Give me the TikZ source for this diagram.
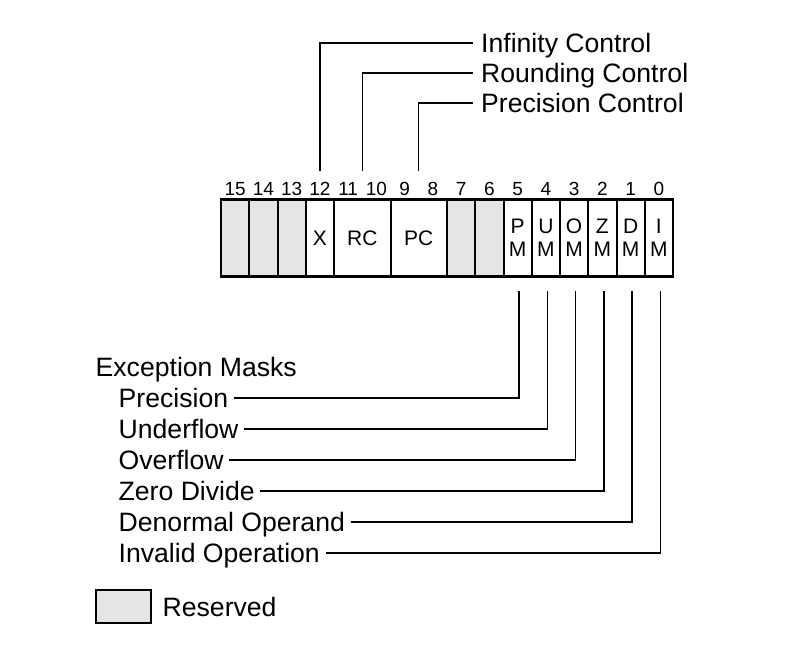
\documentclass[tikz,border=0pt]{standalone}
\usepackage{fontspec}
\setmainfont{Liberation Sans}
\usetikzlibrary{positioning}

\tikzset{
  cell/.style={draw,line width=2pt,minimum width=28.25pt,minimum height=77pt,inner sep=0pt,
    font=\fontsize{21}{23}\selectfont,align=center},
  resv/.style={cell,fill=gray!20},
  bitno/.style={font=\fontsize{19}{20}\selectfont,inner sep=0pt},
  lbl/.style={font=\fontsize{26.6}{31}\selectfont,text height=19pt,text depth=0pt,
    inner ysep=0pt,inner xsep=5.5pt,anchor=west},
  toplbl/.style={lbl,inner xsep=8pt},
  lead/.style={line width=1.3pt}
}

\begin{document}
\begin{tikzpicture}[x=1pt,y=-1pt]
  \useasboundingbox (0,0) rectangle (810,647);
  % register cells
  \foreach \b/\n/\txt/\sty in {15/c15//resv,14/c14//resv,13/c13//resv,12/x/X/cell,
      7/c7//resv,6/c6//resv,5/pm/{P\\M}/cell,4/um/{U\\M}/cell,3/om/{O\\M}/cell,
      2/zm/{Z\\M}/cell,1/dm/{D\\M}/cell,0/im/{I\\M}/cell}
    \node[\sty] (\n) at ({221+(15.5-\b)*28.25},238) {\txt};
  \node[cell,minimum width=56.5pt] (rc) at (362.25,238) {RC};
  \node[cell,minimum width=56.5pt] (pc) at (418.75,238) {PC};
  \draw[line width=2.5pt] (221,199.5) rectangle (673,276.5);
  % bit numbers
  \foreach \b in {0,...,15}
    \node[bitno] (b\b) at ({221+(15.5-\b)*28.25},189) {\b};

  % control fields
  \node[toplbl] (infctl) at (473,43) {Infinity Control};
  \node[toplbl] (rndctl) at (473,73) {Rounding Control};
  \node[toplbl] (prcctl) at (473,103) {Precision Control};
  \foreach \n/\lab in {x/infctl,rc/rndctl,pc/prcctl} {
    \path (\n.north) ++(0,-27.5) coordinate (\n-end);
    \draw[lead] (\n-end) |- (\lab.west);
  }

  % exception masks
  \node[lbl] (masks) at (90,367) {Exception Masks};
  \node[lbl] (precision) at (113,398) {Precision};
  \node[lbl] (underflow) at (113,429) {Underflow};
  \node[lbl] (overflow) at (113,460) {Overflow};
  \node[lbl] (zerodiv) at (113,491) {Zero Divide};
  \node[lbl] (denormal) at (113,522) {Denormal Operand};
  \node[lbl] (invalid) at (113,553) {Invalid Operation};
  \foreach \n/\lab in {pm/precision,um/underflow,om/overflow,zm/zerodiv,dm/denormal,im/invalid} {
    \path (\n.south) ++(1.5,13.5) coordinate (\n-end);
    \draw[lead] (\lab.east) -| (\n-end);
  }

  % legend
  \node[resv,minimum width=55pt,minimum height=33pt] (legbox) at (123.5,606.5) {};
  \node[lbl] (reserved) at (157,607) {Reserved};
\end{tikzpicture}
\end{document}
